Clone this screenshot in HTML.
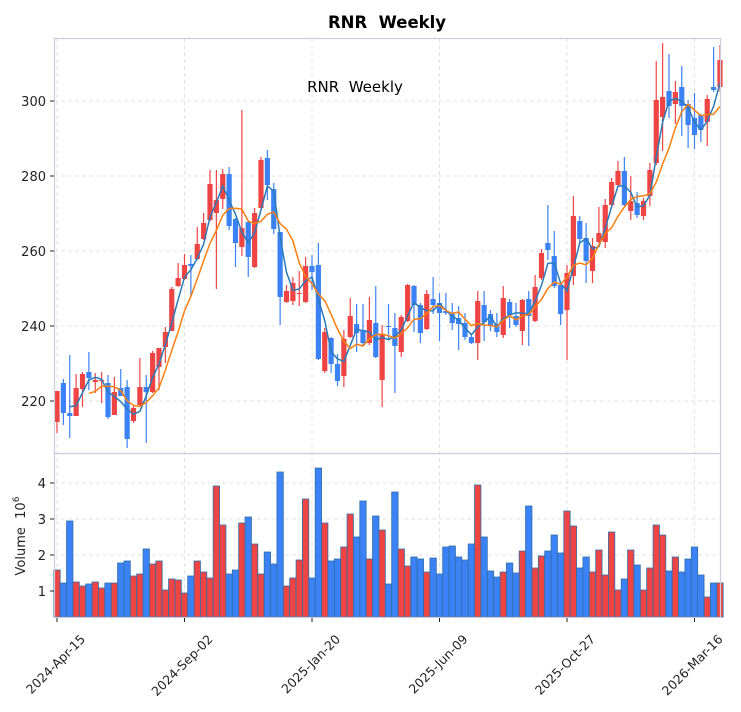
<!DOCTYPE html>
<html><head><meta charset="utf-8"><style>
body{margin:0;background:#fff}
svg{display:block;font-family:"DejaVu Sans","Liberation Sans",sans-serif}
.pre{white-space:pre}
</style></head><body>
<svg id="s" width="741" height="712" xmlns="http://www.w3.org/2000/svg">
<rect width="741" height="712" fill="#fff"/>
<text class="pre" x="387" y="28" text-anchor="middle" font-size="16.5" font-weight="bold" fill="#000">RNR  Weekly</text>
<text class="pre" x="355" y="92" text-anchor="middle" font-size="15" fill="#000">RNR  Weekly</text>
<g id="grid" stroke="#e3e3e3" stroke-dasharray="4,3" stroke-width="1"></g>
<g id="vol"></g>
<g id="cand"></g>
<g id="ma"></g>
<g id="ax" stroke="#ccd" fill="none"></g>
<g id="lbl" font-size="13" fill="#222"></g>
<text class="pre" transform="translate(25,536) rotate(-90)" text-anchor="middle" font-size="13" fill="#222">Volume  10<tspan dy="-6" font-size="9">6</tspan></text>
</svg>
<script>
const NS="http://www.w3.org/2000/svg";
function el(p,t,a,txt){const e=document.createElementNS(NS,t);for(const k in a)e.setAttribute(k,a[k]);if(txt!==undefined)e.textContent=txt;document.getElementById(p).appendChild(e);return e;}
const R="#ef4444",B="#3b82f6";
const C=[
[391,391,422,433,'r'],[379,383,413,425,'b'],[355,413,416,438,'b'],[374,388,416,416,'r'],[372,374,389,407,'r'],
[352,372,378,390,'b'],[373,380,382,393,'r'],[372,380,381,403,'r'],[375,383,417,419,'b'],[377,392,415,415,'r'],
[369,388,396,396,'b'],[380,387,439,448,'b'],[406,408,421,423,'r'],[358,387,405,407,'r'],[375,387,392,443,'b'],
[351,353,392,393,'r'],[348,348,367,390,'r'],[327,332,347,363,'r'],[287,289,331,331,'r'],[263,278,286,287,'r'],
[254,265,279,280,'r'],[255,264,266,297,'b'],[227,244,259,260,'r'],[213,223,239,240,'r'],[170,184,220,221,'r'],
[170,200,213,289,'r'],[169,174,199,209,'r'],[167,174,226,230,'b'],[218,219,243,267,'b'],[110,228,247,256,'r'],
[220,222,257,277,'b'],[208,213,267,268,'r'],[157,160,208,210,'r'],[150,158,185,200,'b'],[183,189,229,234,'b'],
[232,232,297,325,'b'],[285,291,302,303,'r'],[277,283,301,305,'r'],[271,293,294,306,'r'],[257,266,302,303,'r'],
[255,266,272,290,'b'],[243,265,359,360,'b'],[328,332,371,373,'r'],[337,338,364,373,'b'],[354,364,381,386,'b'],
[330,339,376,387,'r'],[298,316,337,338,'r'],[304,324,333,352,'b'],[304,330,343,345,'b'],[297,320,343,345,'r'],
[286,323,357,358,'b'],[325,335,380,407,'r'],[304,326,327,339,'b'],[313,328,346,393,'b'],[315,317,352,357,'r'],
[284,285,321,322,'r'],[285,286,305,332,'b'],[303,305,333,343,'b'],[290,294,329,330,'r'],[277,299,305,314,'b'],
[293,303,313,341,'b'],[293,311,313,315,'b'],[303,314,323,330,'b'],[306,318,324,350,'b'],[313,323,337,340,'b'],
[335,337,343,344,'b'],[291,301,343,360,'r'],[291,305,322,341,'b'],[310,314,326,331,'b'],[313,324,332,337,'b'],
[286,298,335,338,'r'],[299,302,315,328,'b'],[303,316,325,327,'b'],[299,300,331,345,'r'],[291,299,316,346,'b'],
[275,287,321,322,'r'],[249,253,278,280,'r'],[205,243,250,260,'b'],[231,256,286,288,'b'],[283,285,314,325,'b'],
[265,273,310,360,'r'],[196,216,276,285,'r'],[216,221,239,242,'b'],[223,238,261,283,'b'],[238,246,271,283,'r'],
[207,233,242,243,'r'],[199,205,242,248,'r'],[178,182,205,207,'r'],[161,171,185,187,'r'],[157,171,205,207,'b'],
[176,201,211,220,'r'],[192,203,215,218,'b'],[198,201,216,220,'r'],[163,170,196,206,'r'],[61,100,163,165,'r'],
[43,97,117,151,'r'],[54,91,106,118,'b'],[81,92,104,124,'r'],[66,87,106,136,'b'],[100,104,125,148,'b'],
[93,118,135,149,'b'],[114,115,130,142,'b'],[95,99,122,146,'r'],[47,87,90,92,'b'],[45,60,87,92,'r']];
const V=[[570,'r'],[583,'b'],[521,'b'],[582,'r'],[586,'r'],[584,'b'],[582,'r'],[588,'r'],[583,'b'],[583,'r'],
[563,'b'],[561,'b'],[576,'r'],[574,'r'],[549,'b'],[564,'r'],[561,'r'],[590,'r'],[579,'r'],[580,'r'],
[593,'r'],[576,'b'],[561,'r'],[572,'r'],[578,'r'],[486,'r'],[525,'r'],[574,'b'],[570,'b'],[523,'r'],
[517,'b'],[544,'r'],[574,'r'],[552,'b'],[564,'b'],[472,'b'],[586,'r'],[578,'r'],[560,'r'],[499,'r'],
[578,'b'],[468,'b'],[523,'r'],[561,'b'],[559,'b'],[547,'r'],[514,'r'],[537,'b'],[501,'b'],[559,'r'],
[516,'b'],[530,'r'],[584,'b'],[492,'b'],[549,'r'],[566,'r'],[557,'b'],[559,'b'],[572,'r'],[558,'b'],
[574,'b'],[547,'b'],[546,'b'],[557,'b'],[560,'b'],[544,'b'],[485,'r'],[537,'b'],[571,'b'],[577,'b'],
[572,'r'],[563,'b'],[573,'b'],[551,'r'],[506,'b'],[568,'r'],[556,'r'],[551,'b'],[535,'b'],[553,'b'],
[511,'r'],[526,'r'],[568,'b'],[557,'b'],[572,'r'],[550,'r'],[575,'r'],[532,'r'],[590,'r'],[579,'b'],
[550,'r'],[565,'b'],[590,'r'],[568,'r'],[525,'r'],[535,'r'],[571,'b'],[557,'r'],[572,'b'],[559,'b'],
[547,'b'],[575,'b'],[597,'r'],[583,'b'],[583,'r']];
const X=i=>57+6.375*i;
const dates=[[0,"2024-Apr-15"],[20,"2024-Sep-02"],[40,"2025-Jan-20"],[60,"2025-Jun-09"],[80,"2025-Oct-27"],[100,"2026-Mar-16"]];
for(const [i] of dates){el('grid','line',{x1:X(i),x2:X(i),y1:38,y2:617});}
for(const y of [101,176,251,326,401])el('grid','line',{x1:54,x2:720,y1:y,y2:y});
for(const y of [483,519,555,591])el('grid','line',{x1:54,x2:720,y1:y,y2:y});
V.forEach((v,i)=>{el('vol','rect',{x:X(i)-3.19,y:v[0],width:6.375,height:617-v[0],fill:v[1]=='r'?R:B,stroke:"#2f6fa8","stroke-width":0.8});});
C.forEach((c,i)=>{const x=X(i),col=c[4]=='r'?R:B;
el('cand','line',{x1:x,x2:x,y1:c[0],y2:c[3],stroke:col,"stroke-width":1.2});
el('cand','rect',{x:x-2.6,y:c[1],width:5.2,height:Math.max(1,c[2]-c[1]),fill:col});});
const close=C.map(c=>c[4]=='r'?c[1]:c[2]);
function ma(n,col){let p=[];for(let i=n-1;i<close.length;i++){let s=0;for(let k=0;k<n;k++)s+=close[i-k];p.push(X(i).toFixed(1)+","+(s/n).toFixed(1));}
el('ma','polyline',{points:p.join(" "),fill:"none",stroke:col,"stroke-width":1.5});}
ma(3,"#2a7ab8");ma(6,"#ff7f0e");
el('ax','rect',{x:54.5,y:38.5,width:666,height:579,"stroke-width":1.2});
el('ax','line',{x1:54.5,x2:720.5,y1:453.5,y2:453.5,"stroke-width":1.2});
[[101,"300"],[176,"280"],[251,"260"],[326,"240"],[401,"220"]].forEach(([y,t])=>{
el('ax','line',{x1:50,x2:54,y1:y,y2:y,stroke:"#222"});el('lbl','text',{x:46,y:y+5,"text-anchor":"end"},t);});
[[483,"4"],[519,"3"],[555,"2"],[591,"1"]].forEach(([y,t])=>{
el('ax','line',{x1:50,x2:54,y1:y,y2:y,stroke:"#222"});el('lbl','text',{x:46,y:y+5,"text-anchor":"end"},t);});
dates.forEach(([i,t])=>{const x=X(i);el('ax','line',{x1:x,x2:x,y1:618,y2:622,stroke:"#222"});
el('lbl','text',{x:0,y:0,"text-anchor":"end","font-size":"12.5",transform:`translate(${x+29},${640}) rotate(-45)`},t);});
</script>
</body></html>
